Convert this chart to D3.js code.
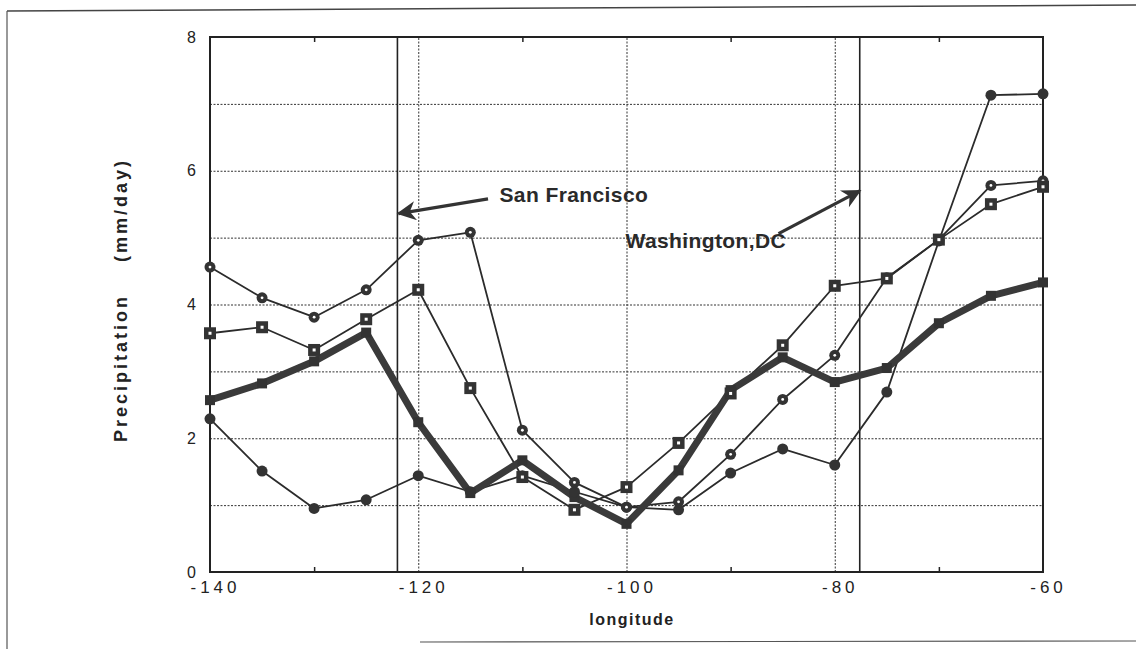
<!DOCTYPE html>
<html>
<head>
<meta charset="utf-8">
<script src="https://cdn.jsdelivr.net/npm/d3@7"></script>
<style>
  body { margin: 0; background: #fff; }
  svg { display: block; font-family: "Liberation Sans", Arial, sans-serif; }
  .grid line { stroke: #333; stroke-dasharray: 2,1.5; stroke-width: 1; }
  .grid path { display: none; }
</style>
</head>
<body>
<script>
// longitude of each sample
const lon = [-140,-135,-130,-125,-120,-115,-110,-105,-100,-95,-90,-85,-80,-75,-70,-65,-60];
// precipitation (mm/day) per series
const dotsWhite = [4.56,4.10,3.81,4.22,4.96,5.08,2.12,1.34,0.97,1.05,1.76,2.58,3.24,4.40,4.97,5.78,5.85];
const squares   = [3.57,3.66,3.32,3.78,4.22,2.75,1.42,0.93,1.27,1.93,2.67,3.39,4.28,4.39,4.97,5.50,5.76];
const dotsDark  = [2.29,1.51,0.95,1.08,1.44,1.20,1.44,1.20,0.97,0.93,1.48,1.84,1.60,2.69,4.95,7.13,7.15];
const thick     = [2.57,2.82,3.15,3.58,2.24,1.18,1.67,1.12,0.72,1.52,2.72,3.21,2.84,3.05,3.72,4.13,4.33];

const xLabels = [-140,-120,-100,-80,-60];
const xMinor = [-130,-110,-90,-70];
const yLabels = [0,2,4,6,8];
const yGrid = [1,2,3,4,5,6,7];
const xGrid = [-120,-100,-80];

// city longitudes marked by solid lines, with label and arrow (data units)
const cities = [
  {name: "San Francisco", lon: -122.0, tx: -112.2, ty: 5.54, from: [-113.3, 5.58], to: [-121.9, 5.36]},
  {name: "Washington,DC", lon: -77.6, tx: -100.1, ty: 4.84, from: [-85.4, 5.06], to: [-77.6, 5.70]}
];

const margin = {top: 37, left: 210},
      width = 833, height = 535;

const svg = d3.select("body").append("svg")
  .attr("width", 1136).attr("height", 649);

// page frame
svg.append("line").attr("x1", 7).attr("y1", 11).attr("x2", 1136).attr("y2", 5)
  .attr("stroke", "#444").attr("stroke-width", 1.5);
svg.append("line").attr("x1", 7).attr("y1", 11).attr("x2", 7).attr("y2", 649)
  .attr("stroke", "#555").attr("stroke-width", 1.2);
svg.append("line").attr("x1", 420).attr("y1", 642).attr("x2", 1136).attr("y2", 641)
  .attr("stroke", "#555").attr("stroke-width", 1.2);

const x = d3.scaleLinear().domain([-140, -60]).range([0, width]);
const y = d3.scaleLinear().domain([0, 8]).range([height, 0]);

const g = svg.append("g").attr("transform", "translate(" + margin.left + "," + margin.top + ")");

// dotted grid
g.append("g").attr("class", "grid")
  .call(d3.axisLeft(y).tickValues(yGrid).tickSize(-width).tickFormat(""));
g.append("g").attr("class", "grid").attr("transform", "translate(0," + height + ")")
  .call(d3.axisBottom(x).tickValues(xGrid).tickSize(-height).tickFormat(""));

// city lines
g.selectAll(".city").data(cities).enter().append("line")
  .attr("x1", d => x(d.lon)).attr("x2", d => x(d.lon))
  .attr("y1", 0).attr("y2", height)
  .attr("stroke", "#222").attr("stroke-width", 1.6);

// frame of the plot
g.append("rect").attr("width", width).attr("height", height)
  .attr("fill", "none").attr("stroke", "#222").attr("stroke-width", 2);

// minor ticks top and bottom
g.append("g").attr("transform", "translate(0," + height + ")")
  .call(d3.axisBottom(x).tickValues(xMinor).tickSize(-5).tickFormat(""))
  .call(a => a.select(".domain").remove())
  .selectAll("line").attr("stroke", "#222").attr("stroke-width", 1.5);
g.append("g")
  .call(d3.axisTop(x).tickValues(xMinor).tickSize(-5).tickFormat(""))
  .call(a => a.select(".domain").remove())
  .selectAll("line").attr("stroke", "#222").attr("stroke-width", 1.5);

// tick labels
const xAxis = g.append("g").attr("transform", "translate(0," + height + ")")
  .call(d3.axisBottom(x).tickValues(xLabels).tickSize(0).tickPadding(9).tickFormat(d => String(d)));
xAxis.select(".domain").remove();
xAxis.selectAll("text").attr("font-size", 17).attr("fill", "#222")
  .attr("font-family", "Liberation Sans, Arial, sans-serif")
  .style("letter-spacing", "4px").attr("dx", 5);

const yAxis = g.append("g")
  .call(d3.axisLeft(y).tickValues(yLabels).tickSize(0).tickPadding(14));
yAxis.select(".domain").remove();
yAxis.selectAll("text").attr("font-size", 16).attr("fill", "#222")
  .attr("font-family", "Liberation Sans, Arial, sans-serif");

// series lines
const line = d3.line().x((d, i) => x(lon[i])).y(d => y(d));

function thin(values) {
  g.append("path").datum(values).attr("d", line)
    .attr("fill", "none").attr("stroke", "#2b2b2b").attr("stroke-width", 1.8)
    .attr("stroke-linejoin", "round");
}
thin(dotsDark);
thin(dotsWhite);
thin(squares);

g.append("path").datum(thick).attr("d", line)
  .attr("fill", "none").attr("stroke", "#3a3a3a").attr("stroke-width", 7)
  .attr("stroke-linejoin", "round");

// markers
g.selectAll(".mk-thick").data(thick).enter().append("rect")
  .attr("x", (d, i) => x(lon[i]) - 5).attr("y", d => y(d) - 5)
  .attr("width", 10).attr("height", 10).attr("fill", "#333");

g.selectAll(".mk-dd").data(dotsDark).enter().append("circle")
  .attr("cx", (d, i) => x(lon[i])).attr("cy", d => y(d)).attr("r", 5.5)
  .attr("fill", "#333");

g.selectAll(".mk-dw").data(dotsWhite).enter().append("circle")
  .attr("cx", (d, i) => x(lon[i])).attr("cy", d => y(d)).attr("r", 5.5)
  .attr("fill", "#333");
g.selectAll(".mk-dw-c").data(dotsWhite).enter().append("circle")
  .attr("cx", (d, i) => x(lon[i])).attr("cy", d => y(d)).attr("r", 1.4)
  .attr("fill", "#fff");

g.selectAll(".mk-sq").data(squares).enter().append("rect")
  .attr("x", (d, i) => x(lon[i]) - 6).attr("y", d => y(d) - 6)
  .attr("width", 12).attr("height", 12).attr("fill", "#333");
g.selectAll(".mk-sq-c").data(squares).enter().append("rect")
  .attr("x", (d, i) => x(lon[i]) - 1.5).attr("y", d => y(d) - 1.5)
  .attr("width", 3).attr("height", 3).attr("fill", "#fff");

// annotations with arrows
svg.append("defs").append("marker")
  .attr("id", "head").attr("viewBox", "0 0 10 10")
  .attr("refX", 9).attr("refY", 5)
  .attr("markerWidth", 7).attr("markerHeight", 6)
  .attr("markerUnits", "strokeWidth")
  .attr("orient", "auto")
  .append("path").attr("d", "M0,0 L10,5 L0,10 L3,5 Z").attr("fill", "#333");

g.selectAll(".arrow").data(cities).enter().append("line")
  .attr("x1", d => x(d.from[0]))
  .attr("y1", d => y(d.from[1]))
  .attr("x2", d => x(d.to[0]))
  .attr("y2", d => y(d.to[1]))
  .attr("stroke", "#333").attr("stroke-width", 3.2)
  .attr("marker-end", "url(#head)");

g.selectAll(".city-label").data(cities).enter().append("text")
  .attr("x", d => x(d.tx)).attr("y", d => y(d.ty))
  .attr("font-size", 21).attr("font-weight", "bold").attr("fill", "#2a2a2a")
  .style("letter-spacing", "0.4px")
  .text(d => d.name);

// axis titles
svg.append("text")
  .attr("x", 632).attr("y", 625)
  .attr("text-anchor", "middle")
  .attr("font-size", 16).attr("font-weight", "bold").attr("fill", "#222")
  .style("letter-spacing", "1.5px")
  .text("longitude");

svg.append("text")
  .attr("transform", "translate(127,300) rotate(-90)")
  .attr("text-anchor", "middle")
  .attr("font-size", 18).attr("font-weight", "bold").attr("fill", "#222")
  .style("letter-spacing", "3px").style("white-space", "pre")
  .text("Precipitation    (mm/day)");
</script>
</body>
</html>
